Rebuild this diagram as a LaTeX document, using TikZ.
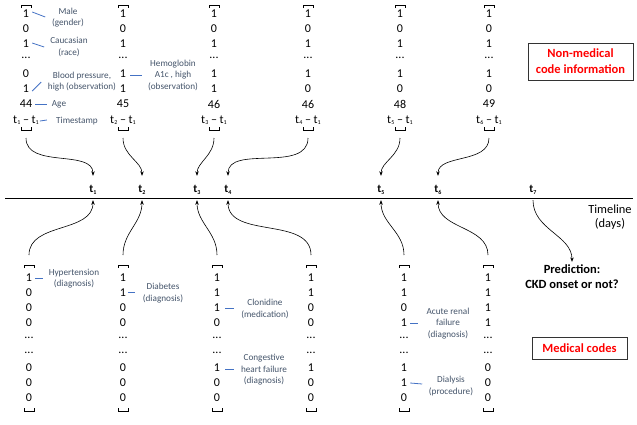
\documentclass[tikz,border=0pt]{standalone}
\usepackage{fontspec}
\setmainfont{Carlito}
\usetikzlibrary{arrows.meta,calc}
\definecolor{annot}{HTML}{44546A}
\definecolor{leader}{HTML}{4472C4}
\newcommand\rowdots{...}
% small time index below the baseline
\newcommand\tsub[1]{\raisebox{-0.25ex}{\fontsize{6}{6}\selectfont #1}}

% one column of non-medical information: id, x, row5, row6, age, time index
\newcommand\topcol[6]{%
  \foreach \v/\yy [count=\k] in {1/14,0/29,1/44,\rowdots/58,#3/74,#4/89,#5/104,{t\tsub{#6} – t\tsub{1}}/120}
    \node[cell] (top#1-\k) at (#2,\yy) {\v};
  \draw[brk] (#2-5,8) -- (#2-5,5) -- (#2+5,5) -- (#2+5,8);
  \draw[brk] (#2-5,127) -- (#2-5,130) -- (#2+5,130) -- (#2+5,127);
  \coordinate (ts#1) at (#2,138);
}
% one column of medical codes: id, x, values
\newcommand\botcol[3]{%
  \foreach \v [count=\k] in {#3}
    \node[cell] (bot#1-\k) at (#2,{278+15*(\k-1)}) {\v};
  \draw[brk] (#2-5,268) -- (#2-5,265) -- (#2+5,265) -- (#2+5,268);
  \draw[brk] (#2-5,408) -- (#2-5,411) -- (#2+5,411) -- (#2+5,408);
  \coordinate (bs#1) at (#2,255);
}

\begin{document}
\begin{tikzpicture}[x=1pt,y=-1pt,
  cell/.style={font=\fontsize{12}{14}\selectfont, inner sep=0pt},
  brk/.style={line width=0.6pt},
  note/.style={font=\fontsize{9.2}{11.5}\selectfont, text=annot, align=center, inner sep=0pt},
  lead/.style={draw=leader, line width=0.8pt},
  flow/.style={-{Stealth[length=4.5pt,width=3.5pt]}, line width=0.6pt},
  tick/.style={font=\bfseries\fontsize{11.5}{13}\selectfont, inner sep=0pt, minimum height=20pt},
  redbox/.style={draw=black!80, line width=0.7pt, text=red, align=center,
    font=\bfseries\fontsize{12.5}{16}\selectfont, inner sep=0pt}]
\useasboundingbox (0,0) rectangle (637,424);

% non-medical code information vectors
\topcol{1}{26}{0}{1}{44}{1}
\topcol{2}{123}{1}{1}{45}{2}
\topcol{3}{214}{1}{1}{46}{3}
\topcol{4}{308}{1}{0}{46}{4}
\topcol{5}{400}{1}{0}{48}{5}
\topcol{6}{489}{1}{0}{49}{6}

% medical code vectors
\botcol{1}{29}{1,0,0,0,\rowdots,\rowdots,0,0,0}
\botcol{2}{123}{1,1,0,0,\rowdots,\rowdots,0,0,0}
\botcol{3}{217}{1,1,1,0,\rowdots,\rowdots,1,0,0}
\botcol{4}{311}{1,1,0,0,\rowdots,\rowdots,1,0,0}
\botcol{5}{404}{1,1,0,1,\rowdots,\rowdots,1,1,0}
\botcol{6}{488}{1,1,1,1,\rowdots,\rowdots,0,0,0}

% timeline
\coordinate (tlA) at (5,198);
\coordinate (tlB) at (633,198);
\draw[line width=0.7pt] (tlA) -- (tlB);
\node[cell, align=center, font=\fontsize{12.4}{14}\selectfont] (tlname) at (610,217) {Timeline\\(days)};
\foreach \i/\x in {1/93,2/142,3/197,4/228,5/381,6/438,7/533}
  \node[tick] (T\i) at (\x,190) {t\tsub{\i}};

% arrows from the vectors to the time points
\foreach \i in {1,...,6} {
  \draw[flow, shorten >=4pt] (ts\i) to[out=-90,in=90] (T\i.north);
  \draw[flow] (bs\i) to[out=90,in=-90] (T\i.south);
}

% prediction
\node[align=center, font=\bfseries\fontsize{12.5}{15}\selectfont, inner sep=0pt] (pred) at (572,277)
  {Prediction:\\CKD onset or not?};
\draw[flow, shorten >=3pt] (T7.south) to[out=-90,in=90] (pred.north);

% legend boxes
\node[redbox, minimum width=105pt, minimum height=37pt] (nonmed) at (580.5,61.5) {Non-medical\\code information};
\node[redbox, minimum width=95pt, minimum height=22pt] (medc) at (579.5,348) {Medical codes};

% annotations of the non-medical entries
\node[note] (male) at (68,17.5) {Male\\(gender)};
\draw[lead] ($(top1-1.east)+(3,-2)$) -- ($(top1-1.east)+(16,3)$);
\node[note] (race) at (69,47) {Caucasian\\(race)};
\draw[lead] ($(top1-3.east)+(3,-1)$) -- ($(top1-3.east)+(15,3)$);
\node[note] (bp) at (82,81.5) {Blood pressure,\\high (observation)};
\draw[lead] ($(top1-6.east)+(3,2)$) -- ($(top1-6.east)+(12,-7)$);
\node[note] (age) at (59,104) {Age};
\draw[lead] ($(top1-7.east)+(3,0)$) -- ($(top1-7.east)+(15,0)$);
\node[note] (stamp) at (77,121) {Timestamp};
\draw[lead] ($(top1-8.east)+(1,1)$) -- ($(top1-8.east)+(8,0)$);
\node[note] (hba) at (173,75) {Hemoglobin\\A1c , high\\(observation)};
\draw[lead] ($(top2-5.east)+(4,1)$) -- ($(top2-5.east)+(16,1)$);

% annotations of the medical codes
\node[note] (hyp) at (74,278.5) {Hypertension\\(diagnosis)};
\draw[lead] ($(bot1-1.east)+(3,0)$) -- ($(bot1-1.east)+(11,0)$);
\node[note] (diab) at (163,293) {Diabetes\\(diagnosis)};
\draw[lead] ($(bot2-2.east)+(2,-1)$) -- ($(bot2-2.east)+(9,-1)$);
\node[note] (clon) at (265,309) {Clonidine\\(medication)};
\draw[lead] ($(bot3-3.east)+(5,0)$) -- ($(bot3-3.east)+(14,0)$);
\node[note] (chf) at (264,370) {Congestive\\heart failure\\(diagnosis)};
\draw[lead] ($(bot3-7.east)+(5,1)$) -- ($(bot3-7.east)+(14,1)$);
\node[note] (arf) at (448,323.5) {Acute renal\\failure\\(diagnosis)};
\draw[lead] ($(bot5-4.east)+(3,0)$) -- ($(bot5-4.east)+(11,0)$);
\node[note] (dial) at (451,386) {Dialysis\\(procedure)};
\draw[lead] ($(bot5-8.east)+(3,0)$) -- ($(bot5-8.east)+(15,1)$);
\end{tikzpicture}
\end{document}
